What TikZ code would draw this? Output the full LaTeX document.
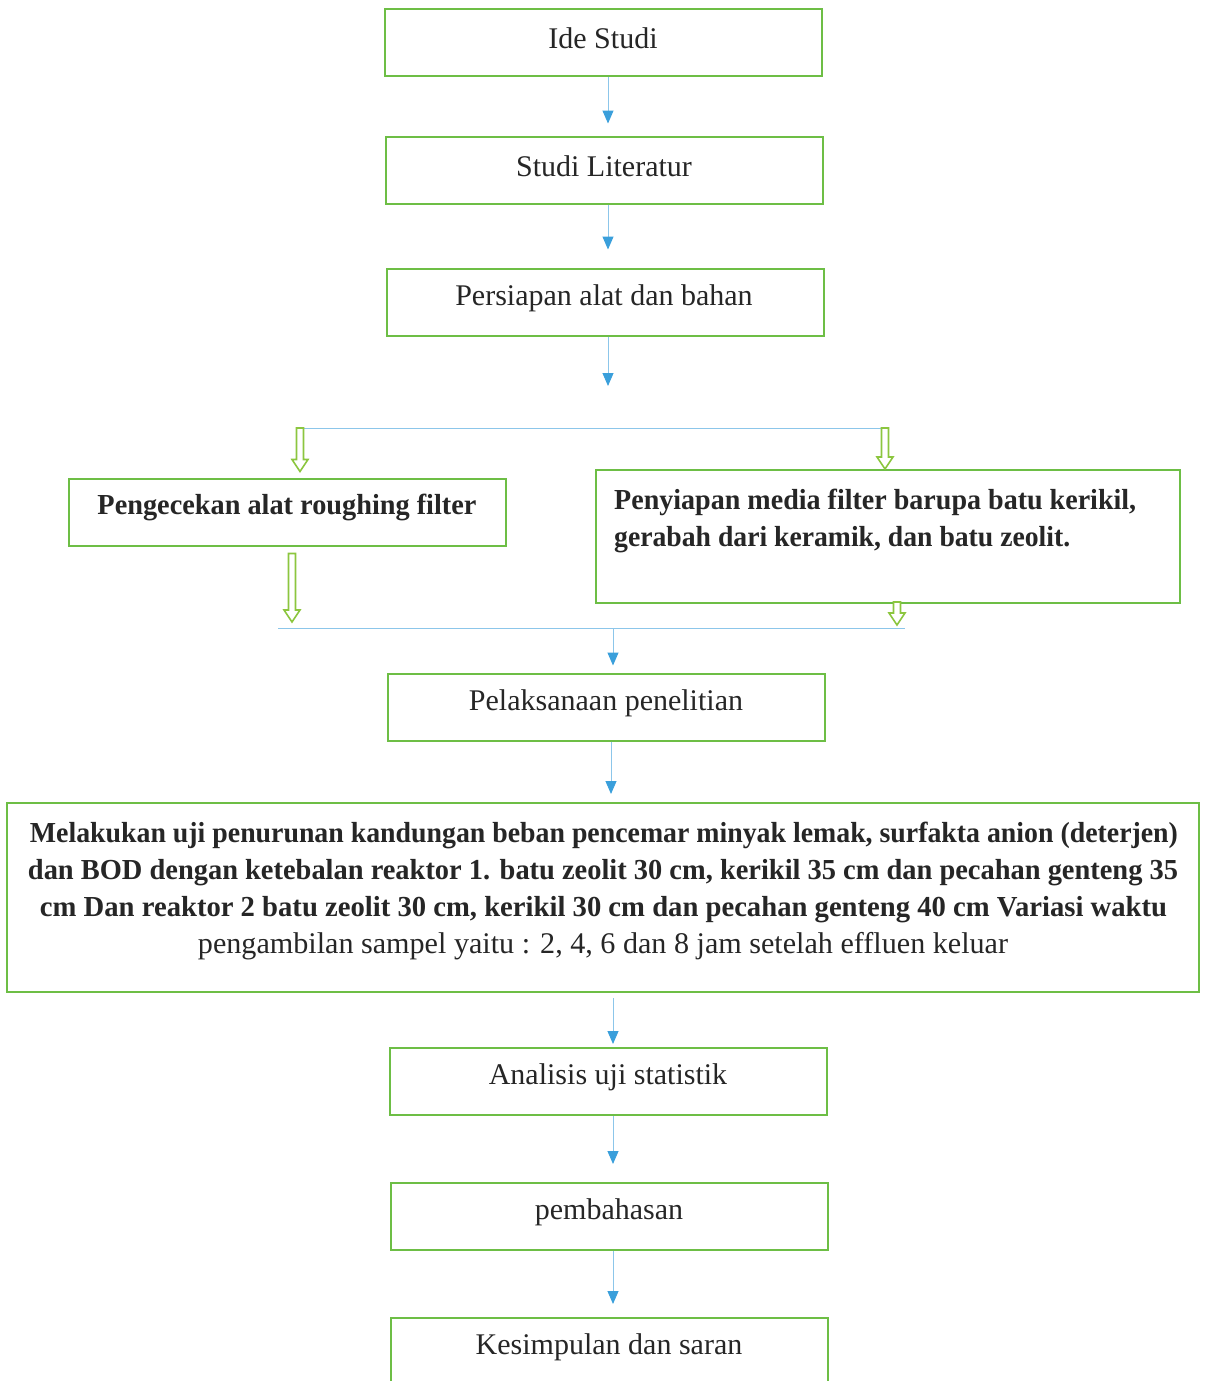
\documentclass[tikz,border=0pt]{standalone}
\usepackage{fontspec}
\setmainfont{Liberation Serif}
\usepackage{graphicx}
\usetikzlibrary{arrows.meta,calc}
\definecolor{boxgreen}{HTML}{6DBE45}
\definecolor{lineblue}{HTML}{8CC6EA}
\definecolor{tipblue}{HTML}{3A9FDB}
\definecolor{hollowgreen}{HTML}{8CC63F}
\definecolor{txt}{HTML}{262626}
\newcommand\fitw[2]{\resizebox{#1pt}{\height}{#2}}
\newcommand\hollowarr[2]{\draw[hollow] ($(#1)+(-3.5,0)$) -- ($(#2)+(-3.5,-12)$) -- ($(#2)+(-8,-12)$) -- (#2) -- ($(#2)+(8,-12)$) -- ($(#2)+(3.5,-12)$) -- ($(#1)+(3.5,0)$) -- cycle;}
\begin{document}
\begin{tikzpicture}[x=1pt,y=-1pt,
 box/.style={draw=boxgreen,line width=2pt,fill=white,inner sep=0pt,minimum width=437pt,minimum height=67pt},
 lbl/.style={text=txt,font=\fontsize{30}{36}\selectfont,inner sep=0pt},
 blbl/.style={text=txt,font=\fontsize{29}{35}\selectfont\bfseries,inner sep=0pt},
 barrow/.style={draw=lineblue,line width=1pt,-{Triangle[width=11pt,length=13pt,fill=tipblue,color=tipblue]}},
 bline/.style={draw=lineblue,line width=1pt},
 hollow/.style={draw=hollowgreen,line width=1.6pt,fill=white,line join=miter}]
\useasboundingbox (0,0) rectangle (1205,1381);
\clip (0,0) rectangle (1205,1381);

% boxes
\node[box] (b1) at (603.5,42.5) {};
\node[lbl] (t1) at (603,38) {Ide Studi};
\node[box] (b2) at (604,170) {};
\node[lbl] (t2) at (604,166) {Studi Literatur};
\node[box] (b3) at (605,302) {};
\node[lbl] (t3) at (604,298) {Persiapan alat dan bahan};
\node[box] (b4) at (287.5,512) {};
\node[blbl] (t4) at (287,507) {\fitw{379}{Pengecekan alat roughing filter}};
\node[box,minimum width=584pt,minimum height=133pt] (b5) at (888,536.5) {};
\node[blbl,anchor=west] (t5a) at (614,502) {\fitw{522}{Penyiapan media filter barupa batu kerikil,}};
\node[blbl,anchor=west] (t5b) at (614,540) {\fitw{456}{gerabah dari keramik, dan batu zeolit.}};
\node[box] (b6) at (606.5,707) {};
\node[lbl] (t6) at (606,703) {Pelaksanaan penelitian};
\node[box,minimum width=1192pt,minimum height=189pt] (b7) at (603,897.5) {};
\node[blbl] (t7a) at (604,835) {\fitw{1148}{Melakukan uji penurunan kandungan beban pencemar minyak lemak, surfakta anion (deterjen)}};
\node[blbl] (t7b) at (603,873) {\fitw{1150}{dan BOD dengan ketebalan reaktor 1. batu zeolit 30 cm, kerikil 35 cm dan pecahan genteng 35}};
\node[blbl] (t7c) at (603.5,910) {\fitw{1127}{cm Dan reaktor 2 batu zeolit 30 cm, kerikil 30 cm dan pecahan genteng 40 cm Variasi waktu}};
\node[lbl] (t7d) at (603,946) {\fitw{810}{pengambilan sampel yaitu : 2, 4, 6 dan 8 jam setelah effluen keluar}};
\node[box] (b8) at (608.5,1081.5) {};
\node[lbl] (t8) at (608,1077) {Analisis uji statistik};
\node[box] (b9) at (609.5,1216.5) {};
\node[lbl] (t9) at (609,1212) {pembahasan};
\node[box,minimum height=72pt] (b10) at (609.5,1354) {};
\node[lbl] (t10) at (609,1347) {Kesimpulan dan saran};

% blue arrows
\draw[barrow,shorten >=12pt] ([xshift=4.5pt]b1.south) -- ([xshift=4pt]b2.north);
\draw[barrow,shorten >=18pt] ([xshift=4pt]b2.south) -- ([xshift=3pt]b3.north);
\coordinate (s1) at (608,386);
\draw[barrow] ([xshift=3pt]b3.south) -- (s1);

% split
\coordinate (sL) at (300,428);
\coordinate (sR) at (885,428);
\draw[bline] (sL) -- (sR);
\coordinate (hL) at ([xshift=12.5pt,yshift=6pt]b4.north);
\coordinate (hR) at (885,469);
\hollowarr{sL}{hL}
\hollowarr{sR}{hR}

% merge
\coordinate (mL) at (278,628);
\coordinate (mR) at (905,628);
\coordinate (mC) at (613,628);
\coordinate (gL) at (292,622);
\coordinate (gR) at (897,625);
\draw[bline] (mL) -- (mR);
\hollowarr{[xshift=4.5pt,yshift=-7pt]b4.south}{gL}
\hollowarr{[xshift=9pt,yshift=2pt]b5.south}{gR}
\draw[barrow,shorten >=7pt] (mC) -- ([xshift=6.5pt]b6.north);

\draw[barrow,shorten >=8pt] ([xshift=4.5pt]b6.south) -- ([xshift=8pt]b7.north);
\draw[barrow,shorten <=5pt,shorten >=3pt] ([xshift=10pt]b7.south) -- ([xshift=4.5pt]b8.north);
\draw[barrow,shorten >=18pt] ([xshift=4.5pt]b8.south) -- ([xshift=3.5pt]b9.north);
\draw[barrow,shorten >=13pt] ([xshift=3.5pt]b9.south) -- ([xshift=3.5pt]b10.north);
\end{tikzpicture}
\end{document}
